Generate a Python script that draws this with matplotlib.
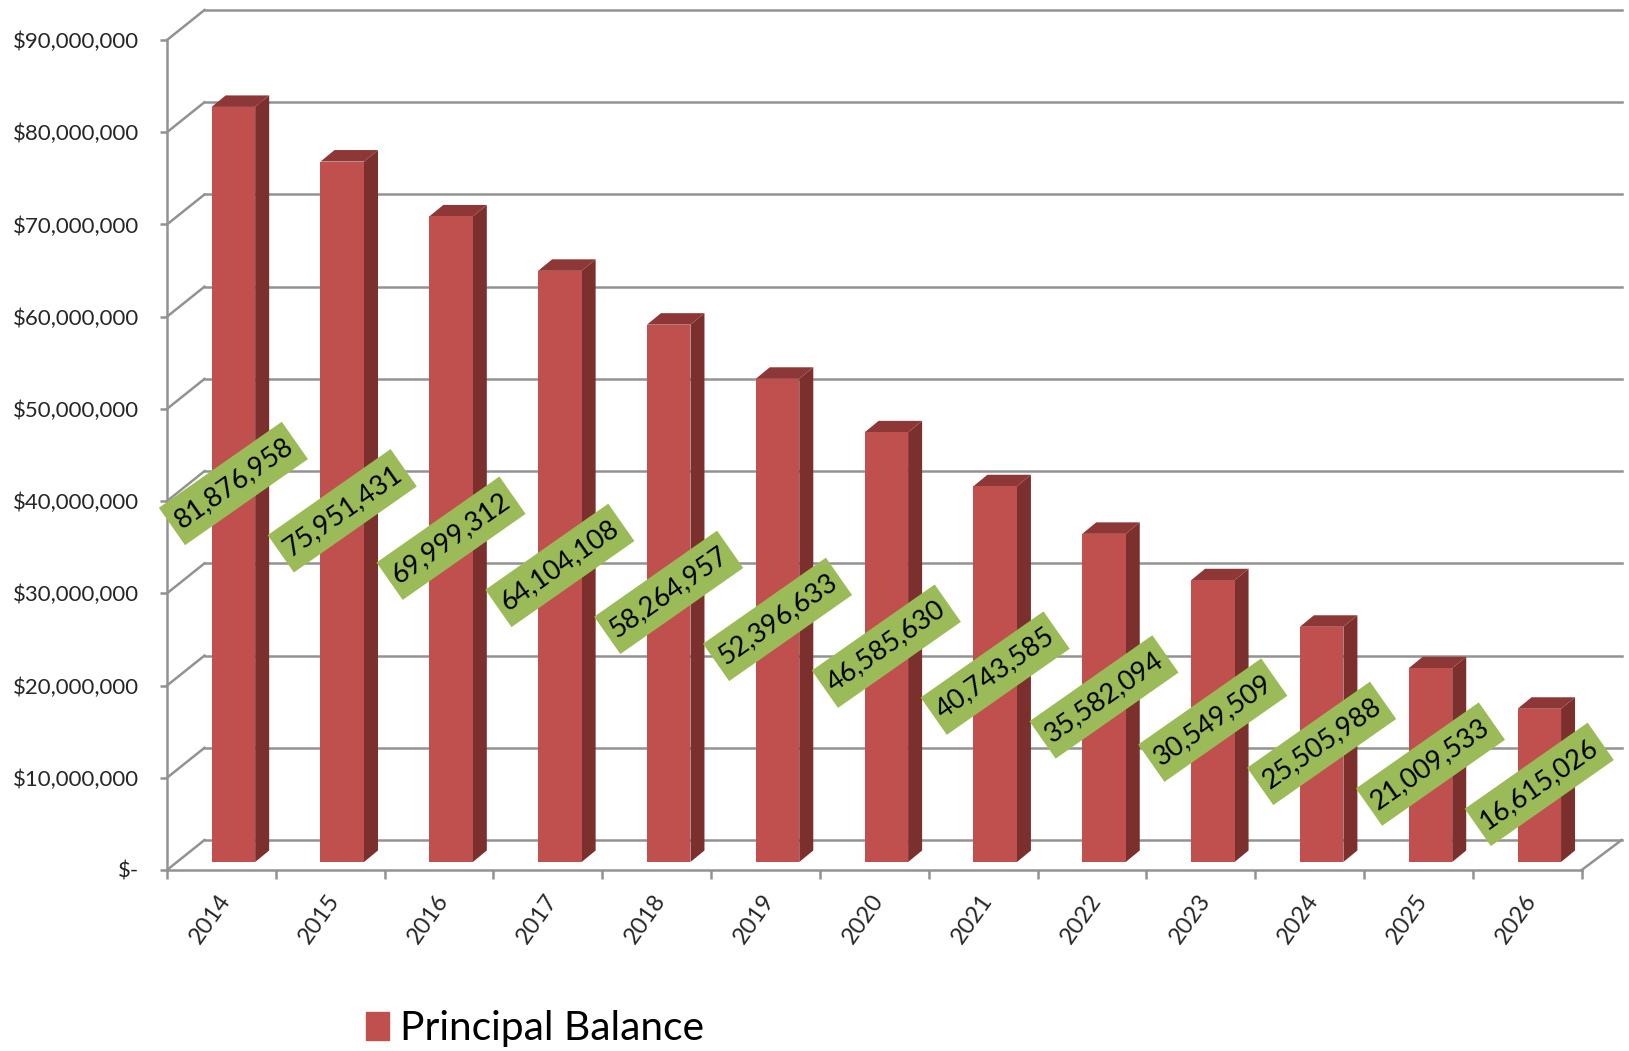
import math
import matplotlib
matplotlib.use('Agg')
import matplotlib.pyplot as plt
from matplotlib.patches import Patch
from matplotlib.transforms import ScaledTranslation

years = ['2014', '2015', '2016', '2017', '2018', '2019', '2020',
         '2021', '2022', '2023', '2024', '2025', '2026']
balance = [81876958, 75951431, 69999312, 64104108, 58264957, 52396633,
           46585630, 40743585, 35582094, 30549509, 25505988, 21009533, 16615026]
y_ticks = [0, 10000000, 20000000, 30000000, 40000000,
           50000000, 60000000, 70000000, 80000000, 90000000]
y_labels = ['$-', '$10,000,000', '$20,000,000', '$30,000,000', '$40,000,000',
            '$50,000,000', '$60,000,000', '$70,000,000', '$80,000,000', '$90,000,000']

plt.rcParams['font.family'] = ['Lato', 'DejaVu Sans']

W, H = 1629, 1051
fig = plt.figure(figsize=(W / 100, H / 100), dpi=100)
ax = fig.add_axes([167 / W, (H - 870) / H, 1414.7 / W, 830 / H])
ax.set_xlim(-0.5, 12.5)
ax.set_ylim(0, 90000000)
ax.patch.set_alpha(0)

# one pixel in data units, the fake 3d depth is drawn with these
px_x = 1 / 108.8
px_y = 10000000 / 92.2

grid = '#929292'
lw = 1.8

# back wall and the slanted lines on the left side wall
wall_dy = 30 * px_y
for t in y_ticks:
    ax.plot([-0.5, -0.5 + 37.5 * px_x], [t, t + wall_dy], color=grid, lw=lw, clip_on=False, zorder=1)
    ax.plot([-0.5 + 37.5 * px_x, 12.5 + 40 * px_x], [t + wall_dy, t + wall_dy], color=grid, lw=lw, clip_on=False, zorder=1)
ax.plot([12.5, 12.5 + 40 * px_x], [0, wall_dy], color=grid, lw=lw, clip_on=False, zorder=1)

# bars sit a little behind the front edge of the floor
x = list(range(len(years)))
shift = 12 * px_x
lift = 8 * px_y
w = 43.5 * px_x
dx = 14 * px_x
dy = 11.5 * px_y

for i, v in zip(x, balance):
    left = i + shift - w / 2
    right = i + shift + w / 2
    ax.fill([right, right, right + dx, right + dx],
            [lift, lift + v, lift + v + dy, lift + dy],
            color='#7c302e', lw=0, clip_on=False, zorder=2)
    ax.fill([left, right, right + dx, left + dx],
            [lift + v, lift + v, lift + v + dy, lift + v + dy],
            color='#8d3836', lw=0, clip_on=False, zorder=2)
ax.bar([i + shift for i in x], balance, width=w, bottom=lift, color='#c0504d', zorder=3)

# green label plates, rotated 35 degrees in pixel space
angle = math.radians(35)
half_long = 75
half_short = 22.8
ux, uy = math.cos(angle), math.sin(angle)
for i, v in zip(x, balance):
    cx = i + shift
    cy = lift + v / 2 + 1 * px_y
    xs = []
    ys = []
    for a, b in [(-1, -1), (1, -1), (1, 1), (-1, 1)]:
        xs.append(cx + (a * half_long * ux - b * half_short * uy) * px_x)
        ys.append(cy + (a * half_long * uy + b * half_short * ux) * px_y)
    ax.fill(xs, ys, color='#9bbb59', lw=0, clip_on=False, zorder=4)
    ax.text(cx, cy, f'{v:,}', rotation=35, rotation_mode='anchor',
            ha='center', va='center', fontsize=19.5, color='black', zorder=5)

for side in ['top', 'right']:
    ax.spines[side].set_visible(False)
for side in ['left', 'bottom']:
    ax.spines[side].set_color(grid)
    ax.spines[side].set_linewidth(lw)

ax.set_yticks(y_ticks)
ax.set_yticklabels(y_labels, fontsize=16, color='#262626')
ax.tick_params(axis='y', length=5, width=lw, color=grid, pad=15)

ax.set_xticks(x)
ax.set_xticklabels(years, fontsize=17, color='#262626', rotation=55, ha='center', va='top')
ax.set_xticks([i - 0.5 for i in range(len(years) + 1)], minor=True)
ax.tick_params(axis='x', which='major', length=0, pad=14.5)
ax.tick_params(axis='x', which='minor', length=6.5, width=lw, color=grid)
nudge = ScaledTranslation(-11 / 100, 0, fig.dpi_scale_trans)
for lab in ax.get_xticklabels():
    lab.set_transform(lab.get_transform() + nudge)

fig.legend(handles=[Patch(color='#c0504d', label='Principal Balance')],
           loc='lower left', bbox_to_anchor=(329 / W, -33 / H), frameon=False, fontsize=29.3,
           handlelength=0.58, handleheight=0.68, handletextpad=0.27, labelcolor='black')

fig.savefig('out.png', dpi=100)
